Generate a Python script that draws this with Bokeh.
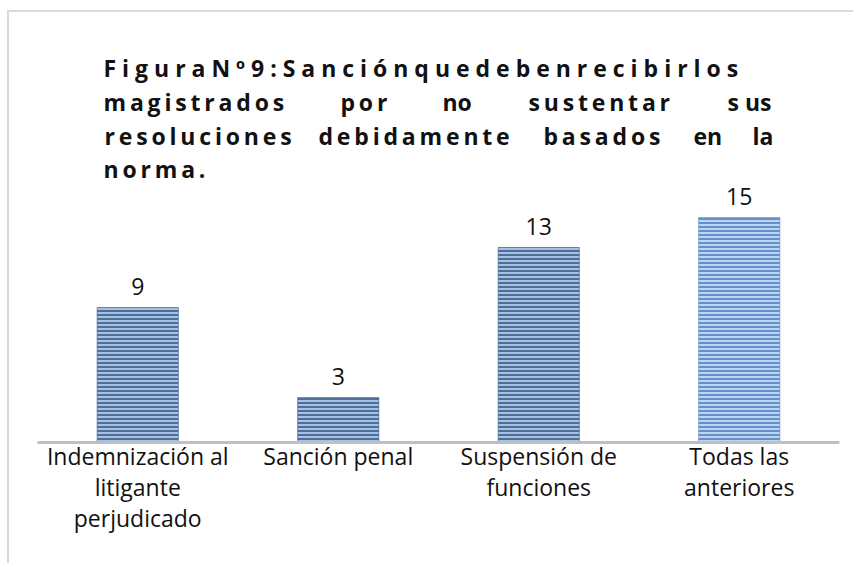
from bokeh.plotting import figure
from bokeh.models import FactorRange, Range1d, Label, ColumnDataSource, LabelSet
from bokeh.core.properties import value
from bokeh.embed import file_html
from bokeh.resources import INLINE

categories = ["Indemnización al\nlitigante\nperjudicado", "Sanción penal",
              "Suspensión de\nfunciones", "Todas las\nanteriores"]
values = [9, 3, 13, 15]

fill_colors = ["#a6c1e4", "#a6c1e4", "#a6c1e4", "#bcd5f3"]
hatch_colors = ["#4f6f99", "#4f6f99", "#4f6f99", "#6690ca"]

W, H = 846, 553
FRAME_BOTTOM = 430          # canvas px
PX_PER_UNIT = 15.0

p = figure(x_range=FactorRange(*categories, range_padding=0, factor_padding=0),
           y_range=Range1d(0, FRAME_BOTTOM / PX_PER_UNIT),
           width=W, height=H, output_backend="svg", toolbar_location=None,
           min_border_left=28, min_border_right=16, min_border_top=0,
           min_border_bottom=H - FRAME_BOTTOM)
p.styles = {"border-left": "2px solid #d9d9d9", "border-top": "2px solid #d9d9d9",
            "margin-left": "7px", "margin-top": "10px"}
p.outline_line_color = None
p.grid.visible = False
p.yaxis.visible = False
p.background_fill_color = "white"
p.border_fill_color = "white"

src = ColumnDataSource(dict(x=categories, top=values, fill=fill_colors,
                            hatch=hatch_colors, lbl=[str(v) for v in values]))
p.vbar(x="x", top="top", width=0.405, source=src, fill_color="fill",
       line_color="hatch", line_width=1, line_alpha=0.7,
       hatch_pattern="horizontal_line", hatch_color="hatch",
       hatch_scale=4, hatch_weight=2)

p.add_layout(LabelSet(x="x", y="top", text="lbl", source=src, y_offset=13,
                      text_align="center", text_baseline="bottom",
                      text_font=value("Open Sans"), text_font_size="23px",
                      text_color="#111111"))

ax = p.xaxis[0]
ax.axis_line_color = "#bfbfbf"
ax.axis_line_width = 3
ax.major_tick_line_color = None
ax.minor_tick_line_color = None
ax.major_label_standoff = -9
ax.major_label_text_font = "Open Sans"
ax.major_label_text_font_size = "23px"
ax.major_label_text_color = "#111111"
ax.major_label_text_line_height = 0.98
ax.major_label_orientation = "horizontal"

# Title (Word-style justified, letter-spaced), placed in page pixels
title_rows = [
    (67, [(103, "F i g u r a N º 9 : S a n c i ó n q u e d e b e n r e c i b i r l o s", False)]),
    (101, [(103, "magistrados", True), (340, "por", True), (442, "no", False),
           (528, "sustentar", True), (727, "s us", False)]),
    (135, [(104, "resoluciones", True), (318, "debidamente", True),
           (543, "basados", True), (693, "en", False), (752, "la", False)]),
    (168, [(103, "norma.", True)]),
]
PAGE_X0, PAGE_FRAME_W = 37.0, 802.0
PAGE_BOTTOM = 442.0
for py, words in title_rows:
    for px, word, spaced in words:
        txt = "\u2009".join(word) if spaced else word
        p.add_layout(Label(x=(px - PAGE_X0) / PAGE_FRAME_W * len(categories),
                           y=(PAGE_BOTTOM - py) / PX_PER_UNIT,
                           text=txt, text_font="Open Sans", text_font_style="bold",
                           text_font_size="23px", text_color="#111111",
                           text_align="left", text_baseline="alphabetic"))

open("out.html", "w").write(file_html(p, INLINE))
